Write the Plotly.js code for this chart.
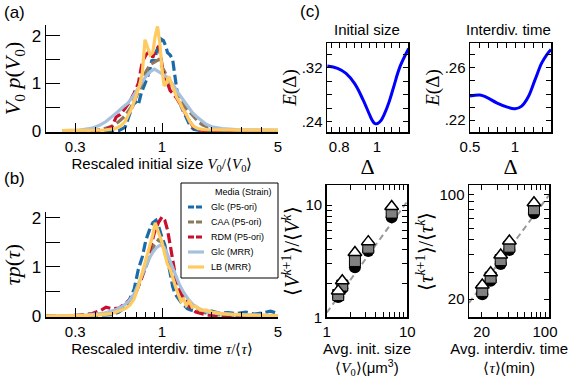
<!DOCTYPE html>
<html>
<head>
<meta charset="utf-8">
<script src="https://cdn.plot.ly/plotly-3.0.1.min.js"></script>
<style>
  html, body { margin: 0; padding: 0; background: #fff; }
  #graph { width: 582px; height: 389px; }
</style>
</head>
<body>
<div id="graph"></div>
<script>
/* datos */

// (a) tamano inicial reescalado
const aGlcP5X = [0.25, 0.45, 0.55, 0.6, 0.63, 0.66, 0.69, 0.72, 0.75, 0.78, 0.81, 0.84, 0.87, 0.9, 0.93, 0.96, 0.99, 1.02, 1.05, 1.08, 1.12, 1.16, 1.2, 1.23, 1.27, 1.31, 1.36, 1.42, 1.48, 1.55, 1.65, 1.8, 2.2, 3, 5];
const aGlcP5Y = [0, 0, 0.01, 0.08, 0.3, 0.5, 0.62, 0.55, 0.8, 0.98, 1.1, 1.25, 1.5, 1.45, 1.7, 1.8, 1.93, 1.9, 1.8, 1.65, 1.6, 1.5, 1.12, 0.85, 0.65, 0.5, 0.38, 0.22, 0.1, 0.04, 0.02, 0.01, 0, 0.01, 0];
const aCaaX = [0.25, 0.42, 0.5, 0.55, 0.6, 0.65, 0.7, 0.75, 0.8, 0.85, 0.9, 0.95, 1.0, 1.05, 1.1, 1.15, 1.2, 1.26, 1.32, 1.4, 1.48, 1.56, 1.65, 1.75, 1.9, 2.1, 2.5, 5];
const aCaaY = [0, 0.02, 0.1, 0.2, 0.32, 0.5, 0.72, 0.95, 1.25, 1.4, 1.45, 1.5, 1.35, 1.2, 1.05, 0.95, 0.85, 0.72, 0.6, 0.48, 0.38, 0.3, 0.2, 0.13, 0.08, 0.04, 0.01, 0];
const aRdmX = [0.25, 0.4, 0.46, 0.5, 0.53, 0.56, 0.6, 0.64, 0.68, 0.72, 0.76, 0.8, 0.84, 0.88, 0.92, 0.96, 1.0, 1.04, 1.08, 1.12, 1.17, 1.22, 1.28, 1.34, 1.4, 1.47, 1.55, 1.65, 1.8, 2.2, 5];
const aRdmY = [0, 0.01, 0.03, 0.1, 0.3, 0.35, 0.48, 0.62, 0.8, 1.0, 1.45, 1.6, 1.68, 1.55, 1.72, 1.78, 1.4, 1.05, 1.0, 0.85, 0.78, 0.7, 0.58, 0.45, 0.35, 0.2, 0.08, 0.03, 0.01, 0.01, 0];
const aGlcMrrX = [0.25, 0.32, 0.38, 0.42, 0.46, 0.5, 0.54, 0.58, 0.62, 0.66, 0.7, 0.75, 0.8, 0.85, 0.9, 0.95, 1.0, 1.06, 1.12, 1.18, 1.24, 1.3, 1.37, 1.45, 1.53, 1.62, 1.72, 1.85, 2.0, 2.3, 2.8, 3.5, 5];
const aGlcMrrY = [0.01, 0.02, 0.06, 0.12, 0.2, 0.3, 0.4, 0.5, 0.58, 0.7, 0.85, 1.0, 1.15, 1.25, 1.3, 1.25, 1.2, 1.15, 1.05, 0.95, 0.82, 0.72, 0.6, 0.48, 0.38, 0.3, 0.22, 0.14, 0.09, 0.05, 0.03, 0.02, 0.02];
const aLbX = [0.25, 0.45, 0.52, 0.56, 0.6, 0.63, 0.66, 0.7, 0.73, 0.76, 0.79, 0.82, 0.85, 0.88, 0.91, 0.94, 0.97, 1.0, 1.03, 1.06, 1.1, 1.14, 1.18, 1.23, 1.28, 1.34, 1.4, 1.47, 1.55, 1.65, 1.8, 2.2, 3, 5];
const aLbY = [0.01, 0.02, 0.05, 0.1, 0.2, 0.35, 0.5, 0.75, 0.95, 1.2, 1.92, 1.75, 1.6, 1.65, 2.0, 2.2, 1.85, 1.3, 0.95, 1.0, 1.15, 1.0, 0.85, 0.7, 0.6, 0.45, 0.35, 0.2, 0.1, 0.05, 0.03, 0.02, 0.02, 0.02];

// (b) tiempo entre divisiones reescalado
const bGlcP5X = [0.2, 0.4, 0.5, 0.55, 0.6, 0.64, 0.68, 0.72, 0.76, 0.8, 0.84, 0.88, 0.92, 0.96, 1.0, 1.04, 1.08, 1.12, 1.16, 1.2, 1.25, 1.3, 1.36, 1.42, 1.5, 1.6, 1.7, 1.85, 2.0, 2.2, 2.5, 2.8, 3.2, 3.6, 4.0, 4.5, 5];
const bGlcP5Y = [0, 0.01, 0.03, 0.08, 0.18, 0.35, 0.55, 0.95, 1.2, 1.55, 1.75, 1.9, 1.95, 1.8, 1.6, 1.45, 1.15, 0.85, 0.6, 0.45, 0.35, 0.28, 0.22, 0.15, 0.12, 0.1, 0.12, 0.08, 0.1, 0.06, 0.07, 0.05, 0.08, 0.04, 0.06, 0.1, 0.05];
const bCaaX = [0.2, 0.4, 0.5, 0.55, 0.6, 0.65, 0.7, 0.75, 0.8, 0.85, 0.9, 0.95, 1.0, 1.05, 1.1, 1.15, 1.2, 1.26, 1.32, 1.4, 1.5, 1.6, 1.75, 1.95, 2.3, 5];
const bCaaY = [0, 0.02, 0.06, 0.12, 0.2, 0.32, 0.5, 0.75, 1.0, 1.25, 1.45, 1.55, 1.5, 1.35, 1.1, 0.95, 0.8, 0.6, 0.45, 0.32, 0.2, 0.14, 0.08, 0.04, 0.02, 0];
const bRdmX = [0.2, 0.3, 0.38, 0.43, 0.46, 0.5, 0.55, 0.6, 0.65, 0.7, 0.75, 0.8, 0.85, 0.9, 0.95, 1.0, 1.04, 1.08, 1.12, 1.16, 1.2, 1.25, 1.3, 1.36, 1.42, 1.5, 1.6, 1.7, 1.85, 2.2, 5];
const bRdmY = [0, 0.01, 0.05, 0.12, 0.18, 0.15, 0.16, 0.25, 0.35, 0.5, 0.75, 1.05, 1.4, 1.7, 1.9, 2.02, 1.95, 1.75, 1.45, 1.15, 0.85, 0.62, 0.45, 0.35, 0.25, 0.15, 0.08, 0.05, 0.02, 0.01, 0];
const bGlcMrrX = [0.2, 0.35, 0.45, 0.52, 0.58, 0.63, 0.68, 0.73, 0.78, 0.83, 0.88, 0.93, 0.98, 1.03, 1.08, 1.14, 1.2, 1.27, 1.35, 1.45, 1.55, 1.7, 1.9, 2.2, 2.7, 3.5, 5];
const bGlcMrrY = [0, 0.02, 0.06, 0.12, 0.2, 0.3, 0.45, 0.7, 0.95, 1.15, 1.3, 1.4, 1.45, 1.4, 1.25, 1.05, 0.85, 0.65, 0.48, 0.33, 0.22, 0.14, 0.08, 0.05, 0.03, 0.02, 0.01];
const bLbX = [0.2, 0.4, 0.5, 0.55, 0.6, 0.64, 0.68, 0.72, 0.76, 0.8, 0.84, 0.88, 0.91, 0.94, 0.97, 1.0, 1.04, 1.08, 1.12, 1.16, 1.2, 1.25, 1.3, 1.35, 1.4, 1.46, 1.52, 1.6, 1.7, 1.85, 2.0, 2.3, 2.7, 3.2, 5];
const bLbY = [0, 0.02, 0.05, 0.1, 0.15, 0.22, 0.35, 0.6, 0.9, 1.15, 1.4, 1.65, 1.9, 1.75, 1.6, 1.5, 1.25, 1.05, 0.95, 0.75, 0.62, 0.45, 0.3, 0.35, 0.22, 0.3, 0.18, 0.2, 0.12, 0.12, 0.08, 0.05, 0.04, 0.02, 0.01];

// (c) arriba: E(Delta)
const deltaSize = [0.737, 0.791, 0.836, 0.881, 0.926, 0.945, 0.962, 0.977, 0.99, 1.005, 1.02, 1.04, 1.065, 1.088, 1.124, 1.169];
const eSize = [0.323, 0.3195, 0.312, 0.297, 0.273, 0.261, 0.250, 0.2415, 0.2375, 0.2378, 0.2415, 0.252, 0.27, 0.291, 0.323, 0.349];
const deltaTime = [0.5, 0.611, 0.685, 0.796, 0.907, 1.0, 1.074, 1.148, 1.222, 1.296, 1.352, 1.4];
const eTime = [0.2384, 0.2392, 0.2375, 0.2333, 0.2302, 0.2287, 0.2308, 0.2379, 0.2508, 0.2636, 0.270, 0.274];

// (c) abajo: momentos vs promedio
const avgV0 = [1.39, 1.56, 2.24, 3.28, 6.40];
const vTri = [1.72, 2.12, 3.78, 4.73, 9.72];
const vSq = [1.58, 1.92, 3.18, 4.18, 8.59];
const vCirc = [1.52, 1.82, 2.79, 3.91, 7.81];
const vRefX = [1, 10];
const vRefY = [1.1, 10.8];

const avgTau = [20.3, 25.1, 32.4, 40.4, 75.5];
const tTri = [24.9, 30.1, 39.5, 49.1, 88.8];
const tSq = [22.7, 27.9, 36.6, 45.0, 80.2];
const tCirc = [21.6, 26.6, 34.4, 42.8, 75.4];
const tRefX = [14.5, 111];
const tRefY = [18.9, 100];

const seriesNames = ['Glc (P5-ori)', 'CAA (P5-ori)', 'RDM (P5-ori)', 'Glc (MRR)', 'LB (MRR)'];
const seriesColors = ['#1b6aaa', '#8a7a5d', '#c8102e', '#a7c1dc', '#ffca5f'];
const seriesDash = ['10px,4px', '10px,4px', '10px,4px', 'solid', 'solid'];

/* armado de trazas */
const serif = 'font-family:Liberation Serif';
const aData = [[aGlcP5X, aGlcP5Y], [aCaaX, aCaaY], [aRdmX, aRdmY], [aGlcMrrX, aGlcMrrY], [aLbX, aLbY]];
const bData = [[bGlcP5X, bGlcP5Y], [bCaaX, bCaaY], [bRdmX, bRdmY], [bGlcMrrX, bGlcMrrY], [bLbX, bLbY]];

const traces = [];
aData.forEach((d, i) => {
    traces.push({
        type: 'scatter', mode: 'lines', x: d[0], y: d[1], xaxis: 'x', yaxis: 'y',
        line: {color: seriesColors[i], width: 3.2, dash: seriesDash[i]}, name: seriesNames[i]
    });
});
bData.forEach((d, i) => {
    traces.push({
        type: 'scatter', mode: 'lines', x: d[0], y: d[1], xaxis: 'x2', yaxis: 'y2',
        line: {color: seriesColors[i], width: 3.2, dash: seriesDash[i]}, name: seriesNames[i]
    });
});

traces.push({type: 'scatter', mode: 'lines', x: deltaSize, y: eSize, xaxis: 'x3', yaxis: 'y3',
    line: {color: '#0000ff', width: 3, shape: 'spline', smoothing: 1.2}});
traces.push({type: 'scatter', mode: 'lines', x: deltaTime, y: eTime, xaxis: 'x4', yaxis: 'y4',
    line: {color: '#0000ff', width: 3, shape: 'spline'}});

function momentTraces(xa, ya, xs, circ, sq, tri, refX, refY){
    return [
        {type: 'scatter', mode: 'lines', x: refX, y: refY, xaxis: xa, yaxis: ya,
            line: {color: '#999', width: 2, dash: '6px,4px'}},
        {type: 'scatter', mode: 'markers', x: xs, y: circ, xaxis: xa, yaxis: ya,
            marker: {symbol: 'circle', size: 12, color: '#000'}},
        {type: 'scatter', mode: 'markers', x: xs, y: sq, xaxis: xa, yaxis: ya,
            marker: {symbol: 'square', size: 11, color: '#808080', line: {color: '#000', width: 1}}},
        {type: 'scatter', mode: 'markers', x: xs, y: tri, xaxis: xa, yaxis: ya,
            marker: {symbol: 'triangle-up', size: 12, color: '#fff', line: {color: '#000', width: 1.5}}}
    ];
}
traces.push(...momentTraces('x5', 'y5', avgV0, vCirc, vSq, vTri, vRefX, vRefY));
traces.push(...momentTraces('x6', 'y6', avgTau, tCirc, tSq, tTri, tRefX, tRefY));

/* ejes */
const W = 582, H = 389;
const px = v => v / W;
const py = v => 1 - v / H;
const tickFont = {family: 'Liberation Sans, Arial, sans-serif', size: 15, color: '#000'};

function distX(l, r, title){
    return {
        type: 'log', domain: [px(l), px(r)], range: [Math.log10(0.2), Math.log10(5)],
        tickvals: [0.3, 1, 5], ticktext: ['0.3', '1', '5'], ticks: 'inside', ticklen: 9,
        tickcolor: '#000', showline: true, linecolor: '#000', linewidth: 1.5, showgrid: false, zeroline: false,
        minor: {tickvals: [0.4, 0.5, 0.6, 0.7, 0.8, 0.9, 2, 3, 4], ticks: 'inside', ticklen: 5, tickcolor: '#000'},
        tickfont: tickFont,
        title: {text: title, font: {size: 15, color: '#000'}, standoff: 3}
    };
}
function distY(b, t, top, title){
    return {
        domain: [py(b), py(t)], range: [-0.02, top], tickvals: [0, 1, 2], ticks: 'inside', ticklen: 14,
        tickcolor: '#000', showline: true, linecolor: '#000', linewidth: 1.5, showgrid: false, zeroline: false,
        minor: {tickvals: [0.5, 1.5], ticks: 'inside', ticklen: 14, tickcolor: '#000'},
        tickfont: {family: tickFont.family, size: 17, color: '#000'},
        title: {text: title, font: {size: 22, color: '#000'}, standoff: 9}
    };
}
function boxAxis(extra){
    return Object.assign({
        ticks: 'inside', ticklen: 5, tickcolor: '#000', mirror: 'ticks', showline: true,
        linecolor: '#000', linewidth: 1.5, showgrid: false, zeroline: false, tickfont: tickFont
    }, extra);
}

// leyenda dibujada a mano (mas compacta que la de plotly)
const legendShapes = [{type: 'rect', xref: 'paper', yref: 'paper',
    x0: px(181), x1: px(278), y0: py(278), y1: py(183), line: {color: '#000', width: 1}, fillcolor: '#fff', layer: 'above'}];
const legendNotes = [{text: 'Media (Strain)', x: px(274), y: py(192), xref: 'paper', yref: 'paper',
    xanchor: 'right', yanchor: 'middle', showarrow: false, font: {size: 9}}];
seriesNames.forEach((n, i) => {
    const yy = py(207 + i * 15);
    legendShapes.push({type: 'line', xref: 'paper', yref: 'paper', x0: px(188), x1: px(204), y0: yy, y1: yy,
        line: {color: seriesColors[i], width: 3.2, dash: seriesDash[i] === 'solid' ? 'solid' : '6px,2px'}, layer: 'above'});
    legendNotes.push({text: n, x: px(209), y: yy, xref: 'paper', yref: 'paper',
        xanchor: 'left', yanchor: 'middle', showarrow: false, font: {size: 9}});
});

function note(text, x, y, size){
    return {text: text, x: px(x), y: py(y), xref: 'paper', yref: 'paper',
        xanchor: 'center', yanchor: 'middle', showarrow: false, font: {size: size}};
}

const layout = {
    width: W, height: H,
    margin: {l: 0, r: 0, t: 0, b: 0},
    paper_bgcolor: '#fff', plot_bgcolor: 'rgba(0,0,0,0)',
    font: {family: 'Liberation Sans, Arial, sans-serif', color: '#000'},
    showlegend: false,
    xaxis: distX(46, 278, 'Rescaled initial size <span style="' + serif + '"><i>V</i><sub>0</sub>/⟨<i>V</i><sub>0</sub>⟩</span>'),
    yaxis: distY(132, 25, 2.23, '<span style="' + serif + '"><i>V</i><sub>0</sub> <i>p</i>(<i>V</i><sub>0</sub>)</span>'),
    xaxis2: Object.assign(distX(46, 278, 'Rescaled interdiv. time <span style="' + serif + '"><i>τ</i>/⟨<i>τ</i>⟩</span>'), {anchor: 'y2'}),
    yaxis2: Object.assign(distY(317, 212, 2.12, '<span style="' + serif + '"><i>τp</i>(<i>τ</i>)</span>'), {anchor: 'x2'}),
    xaxis3: boxAxis({domain: [px(327), px(408)], range: [0.735, 1.165], anchor: 'y3',
        tickvals: [0.8, 1], ticktext: ['0.8', '1'],
        minor: {tick0: 0.8, dtick: 0.04, ticks: 'inside', ticklen: 5, tickcolor: '#000'},
        title: {text: '<span style="' + serif + '">Δ</span>', font: {size: 22}, standoff: 2}}),
    yaxis3: boxAxis({domain: [py(132), py(43)], range: [0.225, 0.357], anchor: 'x3',
        tickvals: [0.24, 0.32], ticktext: ['.24', '.32'],
        minor: {tick0: 0.24, dtick: 0.02, ticks: 'inside', ticklen: 5, tickcolor: '#000'},
        title: {text: '<span style="' + serif + '"><i>E</i>(Δ)</span>', font: {size: 19}, standoff: 0}}),
    xaxis4: boxAxis({domain: [px(470), px(551)], range: [0.5, 1.4], anchor: 'y4',
        tickvals: [0.5, 1], ticktext: ['0.5', '1'],
        minor: {tick0: 0.5, dtick: 0.1, ticks: 'inside', ticklen: 5, tickcolor: '#000'},
        title: {text: '<span style="' + serif + '">Δ</span>', font: {size: 22}, standoff: 2}}),
    yaxis4: boxAxis({domain: [py(132), py(43)], range: [0.211, 0.279], anchor: 'x4',
        tickvals: [0.22, 0.26], ticktext: ['.22', '.26'],
        minor: {tick0: 0.22, dtick: 0.01, ticks: 'inside', ticklen: 5, tickcolor: '#000'},
        title: {text: '<span style="' + serif + '"><i>E</i>(Δ)</span>', font: {size: 19}, standoff: 0}}),
    xaxis5: boxAxis({type: 'log', domain: [px(326.7), px(407.3)], range: [0, 1], anchor: 'y5',
        tickvals: [1, 10], ticktext: ['1', '10'],
        minor: {tickvals: [2, 3, 4, 5, 6, 7, 8, 9], ticks: 'inside', ticklen: 5, tickcolor: '#000'},
        title: {text: 'Avg. init. size<br><span style="' + serif + '">⟨<i>V</i><sub>0</sub>⟩</span>(μm<sup>3</sup>)', font: {size: 15}, standoff: 4}}),
    yaxis5: boxAxis({type: 'log', domain: [py(317.3), py(185)], range: [0, 1.18], anchor: 'x5',
        tickvals: [1, 10], ticktext: ['1', '10'],
        minor: {tickvals: [2, 3, 4, 5, 6, 7, 8, 9], ticks: 'inside', ticklen: 5, tickcolor: '#000'},
        title: {text: '<span style="' + serif + '">⟨<i>V</i><sup><i>k</i>+1</sup>⟩/⟨<i>V</i><sup><i>k</i></sup>⟩</span>', font: {size: 20}, standoff: 0}}),
    xaxis6: boxAxis({type: 'log', domain: [px(469), px(549.3)], range: [1.161, 2.047], anchor: 'y6',
        tickvals: [20, 100], ticktext: ['20', '100'],
        minor: {tickvals: [30, 40, 50, 60, 70, 80, 90], ticks: 'inside', ticklen: 5, tickcolor: '#000'},
        title: {text: 'Avg. interdiv. time<br><span style="' + serif + '">⟨<i>τ</i>⟩</span>(min)', font: {size: 15}, standoff: 4}}),
    yaxis6: boxAxis({type: 'log', domain: [py(317.3), py(185)], range: [1.179, 2.067], anchor: 'x6',
        tickvals: [20, 100], ticktext: ['20', '100'],
        minor: {tickvals: [30, 40, 50, 60, 70, 80, 90], ticks: 'inside', ticklen: 5, tickcolor: '#000'},
        title: {text: '<span style="' + serif + '">⟨<i>τ</i><sup><i>k</i>+1</sup>⟩/⟨<i>τ</i><sup><i>k</i></sup>⟩</span>', font: {size: 20}, standoff: 0}}),
    shapes: legendShapes,
    annotations: [
        note('(a)', 14, 13, 17),
        note('(b)', 14, 178, 17),
        note('(c)', 310, 12, 17),
        note('Initial size', 367, 30, 15),
        note('Interdiv. time', 508, 30, 15)
    ].concat(legendNotes)
};

Plotly.newPlot('graph', traces, layout, {staticPlot: true});
</script>
</body>
</html>
